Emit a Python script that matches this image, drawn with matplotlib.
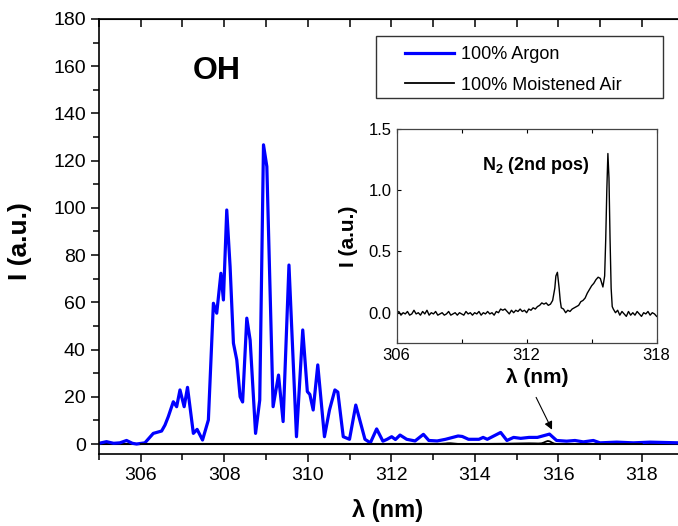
import matplotlib
matplotlib.use('Agg')
import matplotlib.pyplot as plt
from matplotlib.patches import Rectangle

plt.rcParams['font.family'] = ['Liberation Sans', 'DejaVu Sans']
plt.rcParams['mathtext.fontset'] = 'custom'
plt.rcParams['mathtext.rm'] = 'Liberation Sans'
plt.rcParams['mathtext.bf'] = 'Liberation Sans:bold'

# OH band, 100% argon
wl_ar = [305.0, 305.18, 305.35, 305.5, 305.66, 305.8, 305.9, 306.1, 306.3, 306.5,
         306.58, 306.66, 306.78, 306.86, 306.94, 307.04, 307.12, 307.26, 307.35, 307.48,
         307.62, 307.74, 307.82, 307.92, 307.98, 308.06, 308.14, 308.22, 308.3, 308.38,
         308.44, 308.54, 308.62, 308.75, 308.85, 308.94, 309.02, 309.17, 309.3, 309.41,
         309.55, 309.73, 309.88, 309.99, 310.05, 310.13, 310.24, 310.4, 310.52, 310.65,
         310.72, 310.85, 311.0, 311.15, 311.37, 311.5, 311.65, 311.8, 311.9, 312.01,
         312.1, 312.21, 312.37, 312.57, 312.77, 312.9, 313.1, 313.3, 313.6, 313.7,
         313.85, 314.1, 314.2, 314.3, 314.62, 314.77, 314.93, 315.1, 315.3, 315.5,
         315.79, 315.96, 316.2, 316.4, 316.6, 316.84, 317.0, 317.4, 317.8, 318.2, 318.9]
i_ar = [0.3, 1.0, 0.3, 0.5, 1.5, 0.3, 0.0, 0.5, 4.5, 5.5,
        8.0, 11.6, 17.9, 15.8, 22.9, 15.8, 24.0, 4.5, 6.2, 1.7,
        10.2, 59.6, 55.4, 72.3, 61.0, 99.1, 75.1, 42.7, 35.6, 20.0,
        17.8, 53.3, 44.0, 4.5, 18.6, 126.7, 117.5, 15.8, 29.2, 9.5,
        75.8, 3.1, 48.3, 22.2, 21.0, 14.4, 33.5, 3.1, 14.4, 22.9,
        22.0, 3.1, 2.0, 16.5, 2.0, 0.5, 6.4, 1.2, 2.0, 3.1,
        1.9, 3.8, 2.0, 1.3, 4.1, 1.5, 1.3, 2.0, 3.4, 3.2,
        2.0, 2.0, 2.8, 2.0, 4.9, 1.5, 2.8, 2.4, 2.8, 2.8,
        4.2, 1.5, 1.2, 1.5, 0.9, 1.5, 0.5, 0.8, 0.5, 0.8, 0.5]

# N2 2nd positive, 100% moistened air
wl_air = [306.0, 306.1, 306.2, 306.3, 306.4, 306.5, 306.6, 306.7, 306.8, 306.9,
          307.0, 307.1, 307.2, 307.3, 307.4, 307.5, 307.6, 307.7, 307.8, 307.9,
          308.0, 308.1, 308.2, 308.3, 308.4, 308.5, 308.6, 308.7, 308.8, 308.9,
          309.0, 309.1, 309.2, 309.3, 309.4, 309.5, 309.6, 309.7, 309.8, 309.9,
          310.0, 310.1, 310.2, 310.3, 310.4, 310.5, 310.6, 310.7, 310.8, 310.9,
          311.0, 311.1, 311.2, 311.3, 311.4, 311.5, 311.6, 311.7, 311.8, 311.9,
          312.0, 312.1, 312.2, 312.3, 312.4, 312.5, 312.6, 312.7, 312.8, 312.9,
          313.0, 313.1, 313.2, 313.3, 313.35, 313.42, 313.5, 313.55, 313.6, 313.7,
          313.8, 313.9, 314.0, 314.1, 314.2, 314.3, 314.4, 314.5, 314.6, 314.7,
          314.8, 314.9, 315.0, 315.1, 315.2, 315.3, 315.4, 315.45, 315.52, 315.6,
          315.65, 315.7, 315.75, 315.8, 315.85, 315.9, 315.95, 316.0, 316.1, 316.2,
          316.3, 316.4, 316.5, 316.6, 316.7, 316.8, 316.9, 317.0, 317.1, 317.2,
          317.3, 317.4, 317.5, 317.6, 317.7, 317.8, 317.9, 318.0]
i_air = [-0.01, 0.01, -0.02, 0.0, -0.01, 0.01, -0.02, -0.01, 0.02, -0.01,
         0.0, -0.02, 0.01, -0.01, 0.02, -0.02, 0.0, -0.01, 0.01, -0.02,
         -0.01, 0.0, -0.02, -0.01, 0.01, -0.02, -0.01, 0.0, -0.02, 0.0,
         -0.01, -0.02, 0.01, -0.01, 0.0, -0.02, 0.0, -0.01, 0.01, -0.02,
         0.0, -0.01, 0.01, -0.01, 0.0, -0.02, 0.01, 0.0, 0.03, 0.02,
         0.03, 0.01, -0.01, 0.02, 0.0, 0.02, 0.01, 0.03, 0.01, 0.02,
         0.0, 0.03, 0.02, 0.04, 0.03, 0.05, 0.06, 0.08, 0.07, 0.08,
         0.06, 0.07, 0.1, 0.2, 0.3, 0.33, 0.2, 0.1, 0.04, 0.03,
         0.0, 0.02, 0.01, 0.03, 0.04, 0.05, 0.06, 0.09, 0.1, 0.12,
         0.16, 0.19, 0.22, 0.24, 0.27, 0.29, 0.28, 0.25, 0.21, 0.3,
         0.6, 1.0, 1.3, 1.1, 0.6, 0.2, 0.05, 0.03, 0.0, 0.02,
         -0.02, 0.01, -0.01, -0.03, 0.01, -0.02, 0.0, -0.02, 0.01, -0.01,
         -0.03, 0.0, -0.01, 0.01, -0.02, 0.0, -0.01, -0.03]

fig = plt.figure(figsize=(6.78, 5.26), dpi=100)
ax = fig.add_axes([0.146, 0.137, 0.856, 0.827])

ax.axhline(0, color='black', lw=1.5, zorder=1)
ax.plot(wl_ar, i_ar, color='#0000ff', lw=2.3, label='100% Argon', zorder=2)
ax.plot(wl_air, i_air, color='black', lw=1.3, label='100% Moistened Air', zorder=3)

ax.set_xlim(305.0, 318.9)
ax.set_ylim(-4.2, 180)
ax.set_xticks(range(306, 319, 2))
ax.set_xticks(range(305, 319), minor=True)
ax.set_yticks(range(0, 181, 20))
ax.set_yticks(range(0, 181, 10), minor=True)
ax.tick_params(which='both', direction='out', labelsize=14, width=1.1)
ax.tick_params(which='major', length=6)
ax.tick_params(which='minor', length=4)
ax.spines['right'].set_visible(False)
for s in ['left', 'bottom', 'top']:
    ax.spines[s].set_linewidth(1.2)

top = ax.secondary_xaxis('top')
top.set_xticks(range(305, 319))
top.tick_params(direction='in', length=6, width=1.1, labeltop=False)
top.set_xticklabels([])

ax.set_xlabel('λ (nm)', fontsize=17, fontweight='bold')
ax.set_ylabel('I (a.u.)', fontsize=19, fontweight='bold')
ax.xaxis.set_label_coords(0.497, -0.104)
ax.yaxis.set_label_coords(-0.115, 0.49)

ax.text(307.83, 158, 'OH', fontsize=23, fontweight='bold', ha='center', va='center')

ax.annotate('', xy=(315.88, 5.0), xytext=(315.44, 20.8),
            arrowprops=dict(arrowstyle='-|>', color='black', lw=0.8, mutation_scale=12))

# legend: frameless, with a separate box
leg = ax.legend(loc='upper left', bbox_to_anchor=(0.5973, 0.9125),
                bbox_transform=fig.transFigure, frameon=False, fontsize=13,
                borderpad=0, borderaxespad=0, handlelength=2.7,
                handletextpad=0.4, labelspacing=0.75)
fig.patches.append(Rectangle((0.5546, 0.8137), 0.4233, 0.1179, transform=fig.transFigure,
                             fill=False, edgecolor='#333333', lw=1.0))

# inset
ins = fig.add_axes([0.585, 0.3473, 0.3835, 0.4074])
ins.plot(wl_air, i_air, color='black', lw=1.0)
ins.set_xlim(306, 318)
ins.set_ylim(-0.25, 1.5)
ins.set_xticks([306, 312, 318])
ins.set_xticks([309, 315], minor=True)
ins.set_yticks([0.0, 0.5, 1.0, 1.5])
ins.set_yticklabels(['0.0', '0.5', '1.0', '1.5'])
ins.tick_params(which='both', direction='in', labelsize=12, top=True, length=3, width=0.8)
for s in ins.spines.values():
    s.set_linewidth(0.9)
    s.set_color('#444444')
ins.set_xlabel('λ (nm)', fontsize=15, fontweight='bold')
ins.set_ylabel('I (a.u.)', fontsize=15, fontweight='bold')
ins.xaxis.set_label_coords(0.54, -0.115)
ins.yaxis.set_label_coords(-0.15, 0.5)
ins.text(312.43, 1.2, r'$\mathbf{N_2}$ (2nd pos)', fontsize=13, fontweight='bold',
         ha='center', va='center')

fig.savefig('out.png', dpi=100)
